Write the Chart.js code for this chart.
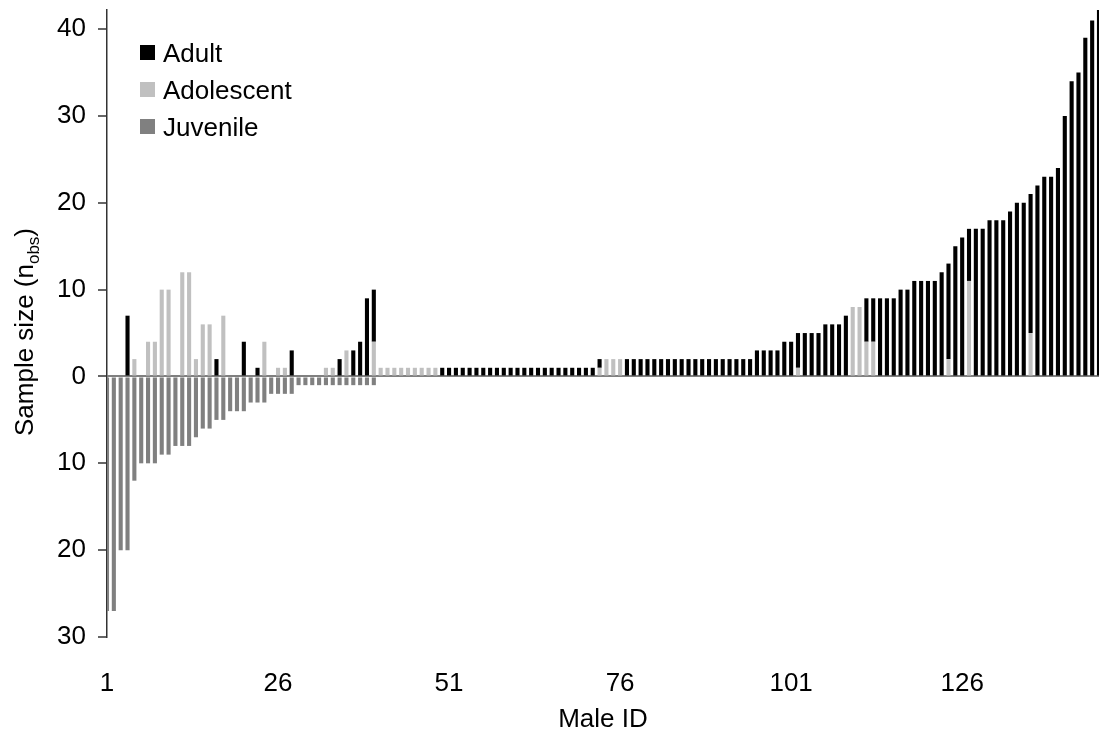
<!DOCTYPE html>
<html>
<head>
<meta charset="utf-8">
<title>Sample size per male</title>
<script src="https://cdn.jsdelivr.net/npm/chart.js@4.4.1/dist/chart.umd.min.js"></script>
<style>
  html, body { margin: 0; padding: 0; background: #fff; }
  #wrap { width: 1099px; height: 736px; position: relative; }
</style>
</head>
<body>
<div id="wrap"><canvas id="chart"></canvas></div>
<script>
// males ordered as plotted, ID 1..146
const maleIds = Array.from({length: 146}, (_, i) => String(i + 1));
const labeledIds = ['1', '26', '51', '76', '101', '126'];
const yTicks = [-30, -20, -10, 0, 10, 20, 30, 40];

// n_obs per male and age class (juvenile plotted downwards)
const adult = [
  0, 0, 0, 7, 0, 0, 0, 0, 0, 0,
  0, 0, 0, 0, 0, 0, 2, 0, 0, 0,
  4, 0, 1, 0, 0, 0, 0, 3, 0, 0,
  0, 0, 0, 0, 2, 0, 3, 4, 9, 6,
  0, 0, 0, 0, 0, 0, 0, 0, 0, 1,
  1, 1, 1, 1, 1, 1, 1, 1, 1, 1,
  1, 1, 1, 1, 1, 1, 1, 1, 1, 1,
  1, 1, 1, 0, 0, 0, 2, 2, 2, 2,
  2, 2, 2, 2, 2, 2, 2, 2, 2, 2,
  2, 2, 2, 2, 2, 3, 3, 3, 3, 4,
  4, 4, 5, 5, 5, 6, 6, 6, 7, 0,
  0, 5, 5, 9, 9, 9, 10, 10, 11, 11,
  11, 11, 12, 11, 15, 16, 6, 17, 17, 18,
  18, 18, 19, 20, 20, 16, 22, 23, 23, 24,
  30, 34, 35, 39, 41, 43
];
const adolescent = [
  0, 0, 0, 0, 2, 0, 4, 4, 10, 10,
  0, 12, 12, 2, 6, 6, 0, 7, 0, 0,
  0, 0, 0, 4, 0, 1, 1, 0, 0, 0,
  0, 0, 1, 1, 0, 3, 0, 0, 0, 4,
  1, 1, 1, 1, 1, 1, 1, 1, 1, 0,
  0, 0, 0, 0, 0, 0, 0, 0, 0, 0,
  0, 0, 0, 0, 0, 0, 0, 0, 0, 0,
  0, 0, 1, 2, 2, 2, 0, 0, 0, 0,
  0, 0, 0, 0, 0, 0, 0, 0, 0, 0,
  0, 0, 0, 0, 0, 0, 0, 0, 0, 0,
  0, 1, 0, 0, 0, 0, 0, 0, 0, 8,
  8, 4, 4, 0, 0, 0, 0, 0, 0, 0,
  0, 0, 0, 2, 0, 0, 11, 0, 0, 0,
  0, 0, 0, 0, 0, 5, 0, 0, 0, 0,
  0, 0, 0, 0, 0, 0
];
const juvenile = [
  -27, -27, -20, -20, -12, -10, -10, -10, -9, -9,
  -8, -8, -8, -7, -6, -6, -5, -5, -4, -4,
  -4, -3, -3, -3, -2, -2, -2, -2, -1, -1,
  -1, -1, -1, -1, -1, -1, -1, -1, -1, -1,
  0, 0, 0, 0, 0, 0, 0, 0, 0, 0,
  0, 0, 0, 0, 0, 0, 0, 0, 0, 0,
  0, 0, 0, 0, 0, 0, 0, 0, 0, 0,
  0, 0, 0, 0, 0, 0, 0, 0, 0, 0,
  0, 0, 0, 0, 0, 0, 0, 0, 0, 0,
  0, 0, 0, 0, 0, 0, 0, 0, 0, 0,
  0, 0, 0, 0, 0, 0, 0, 0, 0, 0,
  0, 0, 0, 0, 0, 0, 0, 0, 0, 0,
  0, 0, 0, 0, 0, 0, 0, 0, 0, 0,
  0, 0, 0, 0, 0, 0, 0, 0, 0, 0,
  0, 0, 0, 0, 0, 0
];
const legendOrder = ['Adult', 'Adolescent', 'Juvenile'];

const FONT = '"Liberation Sans", Arial, sans-serif';
Chart.defaults.font.family = FONT;
Chart.defaults.color = '#000';

// legend box in the top-left corner and the y title with its subscript
const extras = {
  id: 'extras',
  afterDraw(chart) {
    const ctx = chart.ctx;
    ctx.save();
    ctx.font = '26px ' + FONT;
    ctx.textBaseline = 'alphabetic';
    legendOrder.forEach((name, k) => {
      const ds = chart.data.datasets.find(d => d.label === name);
      const top = 45 + k * 37;
      ctx.fillStyle = ds.backgroundColor;
      ctx.fillRect(140, top, 15, 15);
      ctx.fillStyle = '#000';
      ctx.fillText(name, 163, top + 17);
    });

    const parts = [
      {t: 'Sample size (n', size: 26, dy: 0},
      {t: 'obs', size: 17, dy: 6},
      {t: ')', size: 26, dy: 0}
    ];
    let total = 0;
    parts.forEach(p => { ctx.font = p.size + 'px ' + FONT; p.w = ctx.measureText(p.t).width; total += p.w; });
    ctx.translate(33, 332);
    ctx.rotate(-Math.PI / 2);
    let x = -total / 2;
    parts.forEach(p => {
      ctx.font = p.size + 'px ' + FONT;
      ctx.fillText(p.t, x, p.dy);
      x += p.w;
    });
    ctx.restore();
  }
};

const barStyle = { stack: 'obs', borderWidth: 0, clip: 0, barPercentage: 0.6, categoryPercentage: 1 };

new Chart(document.getElementById('chart'), {
  type: 'bar',
  data: {
    labels: maleIds,
    datasets: [
      Object.assign({ label: 'Adolescent', data: adolescent, backgroundColor: '#c0c0c0' }, barStyle),
      Object.assign({ label: 'Adult', data: adult, backgroundColor: '#000000' }, barStyle),
      Object.assign({ label: 'Juvenile', data: juvenile, backgroundColor: '#808080' }, barStyle)
    ]
  },
  options: {
    responsive: true,
    maintainAspectRatio: false,
    animation: false,
    events: [],
    layout: { padding: { top: 10, left: 0, right: 0, bottom: 0 } },
    plugins: { legend: { display: false }, tooltip: { enabled: false } },
    scales: {
      x: {
        stacked: true,
        offset: false,
        grid: { display: false },
        border: { display: false },
        afterFit: s => { s.height = 99; s.paddingLeft = 0; s.paddingRight = 0; },
        ticks: {
          autoSkip: false, maxRotation: 0, minRotation: 0, padding: 23,
          font: { size: 26 }, color: '#000',
          callback: (v, i) => labeledIds.includes(maleIds[i]) ? maleIds[i] : null
        },
        title: { display: true, text: 'Male ID', font: { size: 26 }, color: '#000', padding: { top: 0, bottom: 1 } }
      },
      y: {
        stacked: true,
        min: -30,
        max: 42.2,
        afterBuildTicks: s => { s.ticks = yTicks.map(v => ({ value: v })); },
        afterFit: s => { s.width = 107; s.paddingTop = 0; s.paddingBottom = 0; },
        ticks: { callback: v => Math.abs(v), padding: 12, font: { size: 26 }, color: '#000' },
        grid: {
          color: c => (c.tick && c.tick.value === 0) ? '#808080' : 'rgba(0,0,0,0)',
          lineWidth: 2,
          tickColor: '#333',
          tickLength: 9,
          tickWidth: 1.5
        },
        border: { display: true, color: '#333', width: 1.5 }
      }
    }
  },
  plugins: [extras]
});
</script>
</body>
</html>
